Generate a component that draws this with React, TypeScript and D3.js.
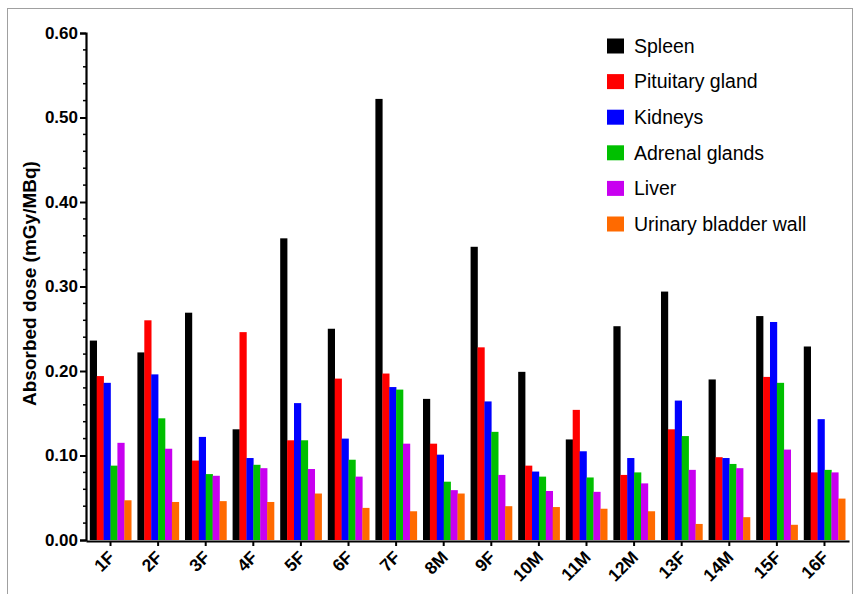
import React, { useEffect, useRef } from 'react';
import * as d3 from 'd3';

// subjects on the x axis
const subjects = ['1F', '2F', '3F', '4F', '5F', '6F', '7F', '8M', '9F', '10M', '11M', '12M', '13F', '14M', '15F', '16F'];

// absorbed dose per organ (mGy/MBq)
const spleen = [0.236, 0.222, 0.269, 0.131, 0.357, 0.250, 0.522, 0.167, 0.347, 0.199, 0.119, 0.253, 0.294, 0.190, 0.265, 0.229];
const pituitary = [0.194, 0.260, 0.094, 0.246, 0.118, 0.191, 0.197, 0.114, 0.228, 0.088, 0.154, 0.077, 0.131, 0.098, 0.193, 0.080];
const kidneys = [0.186, 0.196, 0.122, 0.097, 0.162, 0.120, 0.181, 0.101, 0.164, 0.081, 0.105, 0.097, 0.165, 0.097, 0.258, 0.143];
const adrenal = [0.088, 0.144, 0.078, 0.089, 0.118, 0.095, 0.178, 0.069, 0.128, 0.075, 0.074, 0.080, 0.123, 0.090, 0.186, 0.083];
const liver = [0.115, 0.108, 0.076, 0.085, 0.084, 0.075, 0.114, 0.059, 0.077, 0.058, 0.057, 0.067, 0.083, 0.085, 0.107, 0.080];
const bladder = [0.047, 0.045, 0.046, 0.045, 0.055, 0.038, 0.034, 0.055, 0.040, 0.039, 0.037, 0.034, 0.019, 0.027, 0.018, 0.049];

const organs = ['Spleen', 'Pituitary gland', 'Kidneys', 'Adrenal glands', 'Liver', 'Urinary bladder wall'];
const series = [spleen, pituitary, kidneys, adrenal, liver, bladder];
const colors = ['#000000', '#ff0000', '#0000ff', '#00c000', '#c800f0', '#ff6a00'];

const yTicks = [0, 0.1, 0.2, 0.3, 0.4, 0.5, 0.6];

const W = 857;
const H = 594;

export default function App() {
  const ref = useRef<SVGSVGElement>(null);

  useEffect(() => {
    const svg = d3.select(ref.current);
    svg.selectAll('*').remove();

    const font = 'Liberation Sans, Arial, Helvetica, sans-serif';
    const left = 86, right = 849, bottom = 540, top = 33;

    // outer frame of the figure
    svg.append('rect')
      .attr('x', 7.5).attr('y', 8.5)
      .attr('width', 845).attr('height', 600)
      .attr('fill', 'none').attr('stroke', '#a0a0a0').attr('stroke-width', 1);

    const x0 = d3.scaleBand().domain(subjects).range([left, right]).paddingInner(0.13).paddingOuter(0.08);
    const x1 = d3.scaleBand().domain(organs).range([0, x0.bandwidth()]);
    const y = d3.scaleLinear().domain([0, 0.6]).range([bottom, top]);

    // bars
    const groups = svg.append('g').selectAll('g')
      .data(subjects)
      .enter().append('g')
      .attr('transform', d => `translate(${x0(d)},0)`);

    groups.selectAll('rect')
      .data((d, i) => organs.map((o, k) => ({ organ: o, value: series[k][i], color: colors[k] })))
      .enter().append('rect')
      .attr('x', d => x1(d.organ)!)
      .attr('y', d => y(d.value))
      .attr('width', x1.bandwidth() + 0.3)
      .attr('height', d => bottom - y(d.value))
      .attr('fill', d => d.color);

    // y axis
    const yAxis = d3.axisLeft(y).tickValues(yTicks).tickFormat(d3.format('.2f')).tickSize(6).tickPadding(2);
    const gy = svg.append('g').attr('transform', `translate(${left},0)`).call(yAxis);
    gy.select('.domain').attr('stroke-width', 2.2);
    gy.selectAll('.tick line').attr('stroke-width', 2);
    gy.selectAll('text').style('font-family', font).style('font-size', '17px').style('font-weight', 'bold').attr('fill', '#000');

    // minor ticks
    const minor = d3.range(0, 0.6001, 0.02).filter(v => Math.abs(Math.round(v * 10) - v * 10) > 1e-6);
    svg.append('g').selectAll('line')
      .data(minor)
      .enter().append('line')
      .attr('x1', left - 3).attr('x2', left)
      .attr('y1', d => y(d)).attr('y2', d => y(d))
      .attr('stroke', '#000').attr('stroke-width', 1.5);

    // x axis
    const xAxis = d3.axisBottom(x0).tickSize(5).tickSizeOuter(0);
    const gx = svg.append('g').attr('transform', `translate(0,${bottom + 1})`).call(xAxis);
    gx.select('.domain').attr('stroke-width', 2.2);
    gx.selectAll('.tick line').attr('stroke-width', 2);
    gx.selectAll('text')
      .style('font-family', font).style('font-size', '17.5px').style('font-weight', 'bold').attr('fill', '#000')
      .attr('text-anchor', 'end')
      .attr('y', 0)
      .attr('dy', '0.35em')
      .attr('transform', 'translate(1,13) rotate(-45)');

    // y axis title
    svg.append('text')
      .attr('transform', `translate(36,${(top + bottom) / 2 - 3}) rotate(-90)`)
      .attr('text-anchor', 'middle')
      .style('font-family', font).style('font-size', '19px').style('font-weight', 'bold')
      .text('Absorbed dose (mGy/MBq)');

    // legend
    const legend = svg.append('g').selectAll('g')
      .data(organs)
      .enter().append('g')
      .attr('transform', (d, i) => `translate(607,${46 + i * 35.6})`);
    legend.append('rect')
      .attr('x', 0).attr('y', -7.5).attr('width', 17).attr('height', 15)
      .attr('fill', (d, i) => colors[i]);
    legend.append('text')
      .attr('x', 27).attr('y', 0).attr('dy', '0.35em')
      .style('font-family', font).style('font-size', '19.5px')
      .text(d => d);
  }, []);

  return (
    <svg ref={ref} width={W} height={H} style={{ position: 'absolute', left: 0, top: 0, background: '#fff' }} />
  );
}
